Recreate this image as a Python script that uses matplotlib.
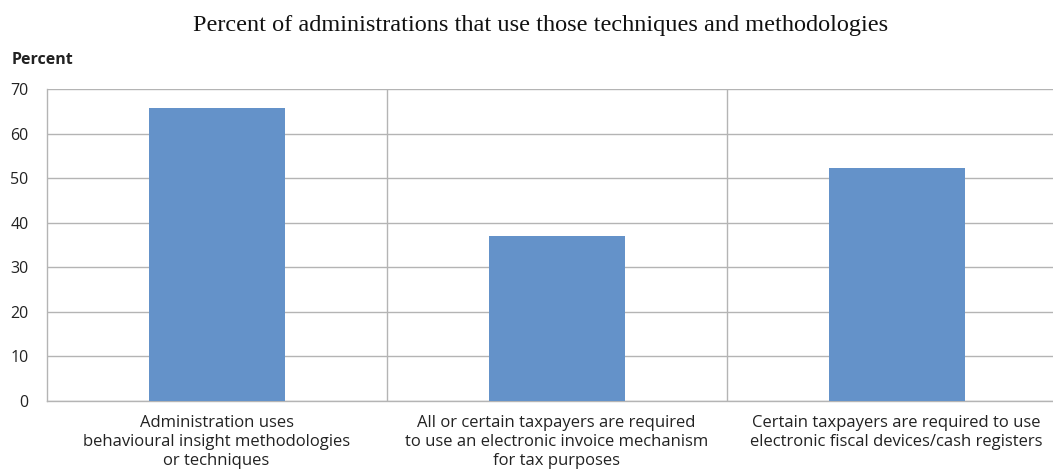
import matplotlib
matplotlib.use("Agg")
import matplotlib.pyplot as plt

categories = [
    "Administration uses\nbehavioural insight methodologies\nor techniques",
    "All or certain taxpayers are required\nto use an electronic invoice mechanism\nfor tax purposes",
    "Certain taxpayers are required to use\nelectronic fiscal devices/cash registers",
]
values = [65.8, 37.1, 52.3]
yticks = [0, 10, 20, 30, 40, 50, 60, 70]

W, H = 1053, 474
fig = plt.figure(figsize=(W / 100, H / 100), dpi=100)
# axes runs a little past the right edge of the picture, as in the original crop
ax = fig.add_axes([46.5 / W, 1 - 401 / H, 1020 / W, 312 / H])

x = range(len(values))
ax.bar(x, values, width=0.4, color="#6492C9", zorder=3)

ax.set_xlim(-0.5, 2.5)
ax.set_ylim(0, 70)
ax.set_yticks(yticks)
ax.set_xticks(list(x))
ax.set_xticklabels(categories, fontsize=12, family="Open Sans", color="#222222",
                   linespacing=1.25)
for lab in ax.get_yticklabels():
    lab.set_fontsize(11.5)
    lab.set_family("Open Sans")
    lab.set_color("#222222")

grid_c = "#b4b4b4"
ax.grid(axis="y", color=grid_c, linewidth=1, zorder=0)
for b in [0.5, 1.5]:
    ax.axvline(b, color=grid_c, linewidth=1, zorder=0)
ax.tick_params(axis="both", length=0)
ax.tick_params(axis="x", pad=10)
ax.tick_params(axis="y", pad=13)
for s in ["top", "right"]:
    ax.spines[s].set_visible(False)
for s in ["left", "bottom"]:
    ax.spines[s].set_color(grid_c)
    ax.spines[s].set_linewidth(1)

fig.text(541 / W, 1 - 25 / H, "Percent of administrations that use those techniques and methodologies",
         ha="center", va="center", fontsize=17.5, family="Liberation Serif", color="#111111")
fig.text(12 / W, 1 - 60 / H, "Percent", ha="left", va="center", fontsize=11.5,
         fontweight="bold", family="Open Sans", color="#222222")

fig.savefig("out.png", dpi=100)
